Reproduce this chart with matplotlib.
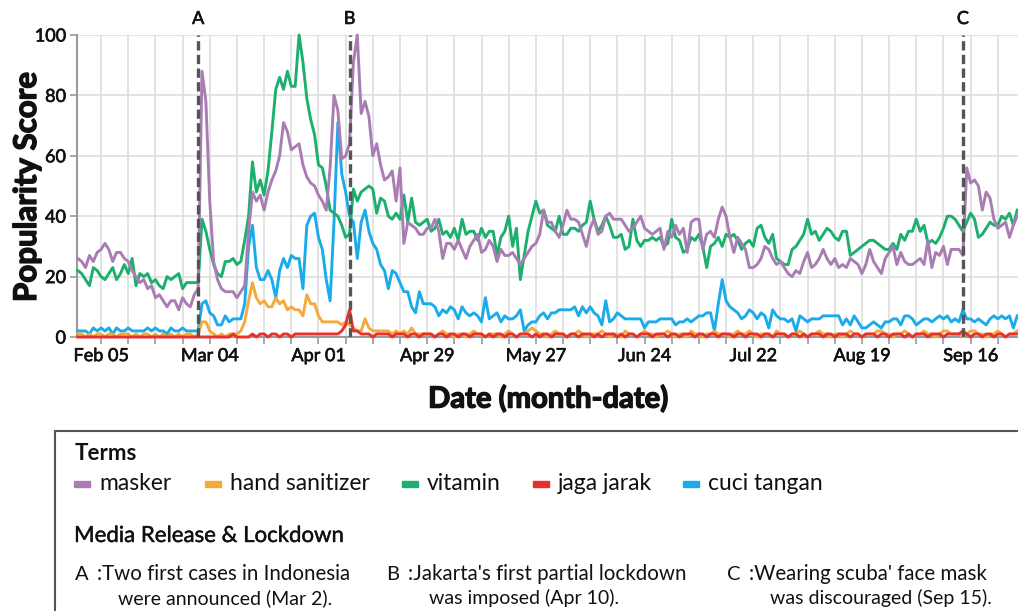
import numpy as np
import pandas as pd
import matplotlib

matplotlib.use("Agg")
import matplotlib.pyplot as plt
import matplotlib.dates as mdates
import matplotlib.patheffects as pe
from matplotlib.patches import Rectangle

W, H = 1018, 611
plt.rcParams["font.family"] = ["Lato", "DejaVu Sans"]

# daily popularity scores, starting 2020-01-30
start_date = "2020-01-30"

masker = [26, 25, 23, 27, 25, 28, 29, 31, 29, 25, 28, 28, 26, 25, 22, 20, 18, 19, 16, 17,
          13, 14, 12, 10, 12, 12, 9, 13, 11, 10, 14, 16,
          88, 78, 45, 25, 19, 16, 15, 15, 15, 13, 15, 17,
          35, 48, 45, 47, 42, 48, 52, 55, 60, 71, 68, 62, 63, 64, 57, 53, 51, 50, 47, 45,
          42, 56, 80, 75, 59, 60, 64, 91, 100, 74, 78, 73, 60, 64, 57, 52, 53, 55, 45, 56,
          31, 38, 37, 36, 34, 34, 36,
          36, 39, 35, 26, 31, 31, 29, 32, 29, 26, 30, 32, 34, 28, 29, 32, 30, 25, 29, 27,
          27, 28, 26, 24, 26, 28, 30, 31, 34, 42, 38, 38, 35, 33, 37, 42, 39, 39, 38, 34,
          30, 36, 39, 34, 35, 40, 41, 39, 39, 39, 37, 35, 36, 38, 40, 36, 35, 34, 35, 36,
          29, 35, 33, 37, 34, 36, 28, 38, 39, 39, 29, 34, 35, 33, 39, 43,
          40, 33, 28, 33, 31, 29, 23, 23, 24, 26, 30, 29, 26, 24, 25, 23, 21, 20, 22, 21,
          25, 28, 23, 24, 26, 29, 26, 24, 26, 23, 24, 23, 26, 25, 24, 21, 24, 29, 25, 23,
          21, 26, 28, 30, 24, 28, 25, 24, 24, 25, 26, 24, 32, 23, 28, 27, 30, 24, 29, 29,
          29, 27, 56, 51, 52, 50, 42, 48, 46, 39, 36, 37, 38, 33, 37, 40]

hand_sanitizer = [1, 1, 0, 1, 0, 1, 1, 0, 1, 1, 0, 1, 1, 1, 0, 1, 0, 1, 1, 0,
                  1, 0, 1, 0, 1, 0, 1, 0, 1, 1, 0, 1,
                  5, 5, 2, 1, 0, 1, 0, 1, 1, 1, 2, 5,
                  12, 18, 13, 11, 12, 10, 10, 13, 11, 12, 9, 10, 9, 9, 7, 14, 11, 11, 7, 5,
                  5, 5, 5, 5, 4, 5, 4, 3, 2, 2, 6, 3, 2, 2, 2, 2, 2, 1, 2, 1,
                  2, 1, 3, 1, 1, 1, 1,
                  1, 0, 1, 2, 1, 1, 0, 1, 1, 0, 1, 2, 1, 1, 0, 1, 1, 1, 0, 1,
                  2, 1, 0, 1, 1, 2, 3, 2, 1, 1, 0, 1, 2, 1, 1, 0, 1, 1, 2, 1,
                  0, 1, 1, 1, 2, 1, 0, 1, 1, 0, 2, 1, 1, 0, 1, 2, 1, 1, 0, 1,
                  1, 2, 1, 0, 1, 1, 0, 2, 1, 1, 0, 1, 1, 2, 1, 1,
                  1, 0, 1, 2, 1, 1, 2, 1, 0, 1, 1, 1, 0, 2, 1, 1, 0, 1, 1, 2,
                  1, 0, 1, 1, 2, 1, 1, 0, 1, 1, 0, 1, 2, 1, 1, 0, 1, 1, 1, 2,
                  2, 1, 1, 0, 1, 1, 2, 1, 0, 1, 1, 2, 1, 1, 0, 1, 2, 2, 1, 1,
                  1, 0, 1, 2, 2, 1, 1, 0, 1, 1, 2, 1, 0, 1, 1, 2]

vitamin = [22, 21, 19, 17, 23, 22, 20, 19, 21, 23, 19, 21, 24, 21, 26, 17, 21, 20, 21, 18,
           19, 17, 16, 20, 19, 20, 21, 16, 18, 18, 18, 18,
           39, 35, 29, 24, 21, 20, 25, 25, 26, 24, 25, 32,
           40, 58, 48, 52, 47, 55, 68, 82, 86, 82, 88, 83, 83, 100, 91, 79, 72, 67, 57, 56,
           50, 42, 41, 40, 37, 33, 34, 49, 45, 48, 49, 50, 49, 41, 46, 45, 40, 39, 41, 39,
           47, 38, 46, 38, 37, 38, 39,
           35, 36, 39, 34, 35, 33, 36, 32, 39, 34, 35, 35, 32, 36, 33, 35, 35, 27, 33, 35,
           40, 30, 36, 19, 27, 35, 40, 45, 41, 42, 37, 36, 35, 40, 34, 34, 36, 36, 35, 37,
           38, 45, 39, 35, 37, 40, 37, 33, 33, 34, 29, 30, 39, 32, 30, 32, 32, 33, 32, 33,
           30, 31, 39, 33, 32, 28, 29, 33, 32, 34, 30, 23, 30, 31, 33, 30,
           34, 33, 34, 32, 29, 31, 32, 30, 36, 37, 33, 31, 34, 26, 25, 24, 24, 29, 30, 32,
           34, 39, 34, 35, 32, 34, 36, 35, 33, 32, 35, 35, 27, 28, 29, 30, 31, 32, 32, 31,
           30, 29, 29, 31, 29, 34, 32, 35, 35, 39, 35, 37, 31, 32, 31, 33, 36, 40, 40, 39,
           37, 35, 38, 41, 39, 33, 34, 36, 38, 37, 37, 40, 39, 41, 37, 42]

jaga_jarak = [0, 0, 0, 0, 0, 0, 0, 0, 0, 0, 0, 0, 0, 0, 0, 0, 0, 0, 0, 0,
              0, 0, 0, 0, 0, 0, 0, 0, 0, 0, 0, 0,
              0, 0, 0, 0, 0, 0, 0, 0, 1, 0, 0, 0,
              0, 1, 0, 1, 1, 0, 1, 1, 0, 1, 1, 0, 1, 1, 1, 1, 1, 1, 1, 1,
              1, 1, 1, 1, 2, 4, 9, 2, 2, 1, 1, 1, 0, 1, 1, 1, 1, 0, 1, 1,
              1, 0, 1, 1, 0, 1, 1,
              1, 0, 1, 1, 0, 1, 1, 0, 1, 1, 0, 1, 1, 1, 0, 1, 0, 1, 1, 0,
              1, 1, 0, 1, 1, 1, 0, 1, 0, 1, 1, 0, 1, 1, 1, 0, 1, 1, 0, 1,
              1, 1, 0, 1, 0, 1, 1, 1, 0, 1, 0, 1, 1, 0, 1, 1, 1, 0, 1, 1,
              1, 0, 1, 1, 0, 1, 1, 1, 0, 1, 1, 0, 1, 1, 0, 1,
              1, 1, 0, 1, 1, 0, 1, 1, 1, 0, 1, 1, 0, 1, 1, 1, 0, 1, 1, 0,
              1, 0, 1, 1, 1, 0, 1, 1, 0, 1, 1, 1, 0, 1, 1, 0, 1, 1, 1, 0,
              1, 1, 0, 1, 1, 1, 0, 1, 0, 1, 1, 1, 0, 1, 1, 1, 0, 1, 1, 1,
              1, 2, 1, 0, 1, 1, 0, 1, 1, 0, 1, 1, 0, 1, 1, 1]

cuci_tangan = [2, 2, 2, 1, 3, 2, 3, 2, 3, 1, 3, 2, 2, 3, 2, 2, 2, 2, 3, 2,
               3, 2, 2, 1, 3, 2, 2, 3, 2, 2, 2, 2,
               11, 12, 8, 7, 4, 4, 7, 5, 6, 6, 6, 11,
               30, 37, 23, 19, 19, 22, 19, 13, 22, 26, 23, 27, 26, 26, 16, 37, 40, 41, 33, 29,
               19, 12, 38, 71, 54, 48, 40, 38, 26, 38, 42, 35, 31, 29, 24, 22, 16, 22, 21, 18,
               15, 15, 10, 8, 15, 11, 11,
               11, 10, 7, 9, 8, 10, 9, 6, 10, 8, 7, 8, 7, 5, 13, 6, 7, 8, 5, 7,
               6, 6, 7, 9, 2, 4, 5, 5, 7, 8, 6, 8, 8, 9, 9, 9, 9, 10, 7, 10,
               8, 10, 8, 7, 4, 12, 5, 6, 8, 7, 6, 6, 6, 6, 6, 3, 5, 5, 5, 6,
               6, 6, 6, 4, 5, 5, 6, 5, 6, 7, 7, 8, 8, 2, 11, 19,
               12, 10, 9, 8, 6, 7, 9, 8, 6, 8, 7, 3, 9, 7, 6, 6, 5, 6, 2, 7,
               6, 5, 6, 6, 6, 7, 7, 7, 7, 7, 4, 6, 4, 7, 5, 3, 3, 4, 5, 4,
               3, 5, 5, 6, 6, 4, 7, 7, 6, 4, 5, 6, 6, 5, 6, 7, 6, 7, 5, 6,
               5, 9, 6, 6, 5, 6, 5, 4, 6, 7, 6, 7, 6, 7, 3, 7]

term_names = ["masker", "hand sanitizer", "vitamin", "jaga jarak", "cuci tangan"]
term_colors = ["#A97DB3", "#F6A93B", "#1DAF6E", "#E8302E", "#1CABEA"]

event_labels = ["A", "B", "C"]
event_dates = ["2020-03-01", "2020-04-09", "2020-09-14"]
event_notes = [("Two first cases in Indonesia", "were announced (Mar 2)."),
               ("Jakarta's first partial lockdown", "was imposed (Apr 10)."),
               ("Wearing scuba' face mask", "was discouraged (Sep 15).")]

tick_dates = ["2020-02-05", "2020-03-04", "2020-04-01", "2020-04-29", "2020-05-27",
              "2020-06-24", "2020-07-22", "2020-08-19", "2020-09-16"]
tick_labels = ["Feb 05", "Mar 04", "Apr 01", "Apr 29", "May 27",
               "Jun 24", "Jul 22", "Aug 19", "Sep 16"]

INK = "#111111"
SEMI = [pe.withStroke(linewidth=0.45, foreground=INK)]
HEAVY = [pe.withStroke(linewidth=1.0, foreground=INK)]


def fx(x):
    return x / W


def fy(y):
    return 1 - y / H


dates = pd.date_range(start_date, periods=len(masker), freq="D")
series = {"masker": masker, "hand sanitizer": hand_sanitizer, "vitamin": vitamin,
          "jaga jarak": jaga_jarak, "cuci tangan": cuci_tangan}
colors = dict(zip(term_names, term_colors))

fig = plt.figure(figsize=(W / 100, H / 100), dpi=100)
ax = fig.add_axes([fx(77), fy(337), fx(W - 77), (337 - 35) / H])

# draw order: blue, green, purple, orange, red
for name in ["cuci tangan", "vitamin", "masker", "hand sanitizer", "jaga jarak"]:
    ax.plot(dates, series[name], color=colors[name], lw=2.1, zorder=3, clip_on=False)

for lab, d in zip(event_labels, event_dates):
    ax.axvline(pd.Timestamp(d), color="#555555", lw=2.4, ls=(0, (2.8, 1.3)), zorder=4)
    ax.text(pd.Timestamp(d), 105.3, lab, ha="center", va="center", fontsize=13,
            color=INK, path_effects=SEMI)

x0 = mdates.date2num(dates[0])
ax.set_xlim(x0 - 0.2, x0 + 242.2)
ax.set_ylim(0, 100)
ax.set_yticks([0, 20, 40, 60, 80, 100])
ax.set_xticks([pd.Timestamp(t) for t in tick_dates])
ax.set_xticklabels(tick_labels)
weekly = pd.date_range("2020-02-05", "2020-09-28", freq="7D")
ax.set_xticks(weekly, minor=True)

ax.grid(axis="x", which="both", color="#dedede", lw=1.2)
ax.grid(axis="y", which="major", color="#dedede", lw=1.2)
ax.set_axisbelow(True)
for s in ["top", "right"]:
    ax.spines[s].set_visible(False)
for s in ["left", "bottom"]:
    ax.spines[s].set_color("#9a9a9a")
    ax.spines[s].set_linewidth(1.5)
ax.tick_params(axis="both", which="both", length=5, width=1.2, color="#9a9a9a",
               labelsize=13, labelcolor=INK, pad=3)
for t in ax.get_xticklabels() + ax.get_yticklabels():
    t.set_path_effects(SEMI)

fig.text(fx(27), fy(187), "Popularity Score", rotation=90, ha="center", va="center",
         fontsize=22.5, fontweight="bold", color=INK, path_effects=HEAVY)
fig.text(fx(548), fy(399), "Date (month-date)", ha="center", va="center",
         fontsize=21, fontweight="bold", color=INK, path_effects=HEAVY)

# legend panel (runs off the right and bottom edges)
fig.patches.append(Rectangle((fx(55), fy(660)), 1.2, (660 - 431) / H,
                             transform=fig.transFigure, fill=False,
                             ec="#555555", lw=1.5))
fig.text(fx(75), fy(454), "Terms", ha="left", va="center", fontsize=16,
         fontweight="bold", color=INK)
swatch_x = [74, 205, 402, 533, 683]
for name, sx in zip(term_names, swatch_x):
    fig.patches.append(Rectangle((fx(sx), fy(487)), fx(16), 6 / H,
                                 transform=fig.transFigure, color=colors[name]))
    fig.text(fx(sx + 25), fy(484), name, ha="left", va="center", fontsize=16.5,
             color=INK)

fig.text(fx(74), fy(536), "Media Release & Lockdown", ha="left", va="center",
         fontsize=16, color=INK, path_effects=[pe.withStroke(linewidth=0.3, foreground=INK)])
note_x = [75, 386, 727]
for lab, (l1, l2), nx in zip(event_labels, event_notes, note_x):
    fig.text(fx(nx), fy(574), lab, ha="left", va="center", fontsize=14.5, color=INK)
    fig.text(fx(nx + 22), fy(574), ":" + l1, ha="left", va="center", fontsize=14.8,
             color=INK)
    fig.text(fx(nx + 43), fy(598), l2, ha="left", va="center", fontsize=14,
             color=INK)

fig.savefig("out.png", dpi=100)
